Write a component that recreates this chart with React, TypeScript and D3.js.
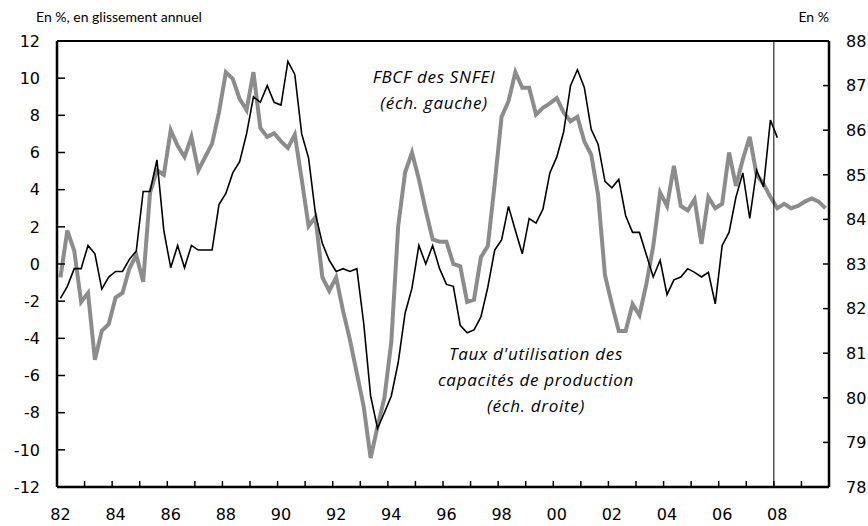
import React from "react";
import * as d3 from "d3";

const START_YEAR = 1982;
const END_YEAR = 2010;
const SPLIT_YEAR = 2008;

// FBCF des SNFEI, glissement annuel (%), trimestriel 1982T1 - 2008T1 (échelle gauche)
const fbcf: number[] = [
  -1.85, -1.2, -0.25, -0.25, 1.0, 0.55, -1.35, -0.7, -0.4, -0.4, 0.25, 0.7,
  3.9, 3.9, 5.6, 1.8, -0.2, 1.0, -0.2, 1.0, 0.75, 0.75, 0.75, 3.2,
  3.8, 4.9, 5.5, 7.0, 9.0, 8.7, 9.6, 8.7, 8.55, 10.9, 10.2, 7.0,
  5.7, 2.7, 1.1, 0.2, -0.4, -0.25, -0.4, -0.25, -3.2, -7.1, -8.85, -8.0,
  -7.1, -5.3, -2.65, -1.3, 1.0, 0.0, 1.0, -0.25, -1.1, -1.2, -3.3, -3.7,
  -3.55, -2.85, -1.25, 0.75, 1.3, 3.1, 1.8, 0.55, 2.45, 2.2, 2.95, 4.9,
  5.75, 7.1, 9.6, 10.45, 9.5, 7.25, 6.45, 4.45, 4.1, 4.55, 2.6, 1.7,
  1.7, 0.5, -0.7, 0.2, -1.65, -0.85, -0.7, -0.25, -0.45, -0.7, -0.45, -2.15,
  1.0, 1.7, 3.6, 4.9, 2.45, 5.05, 4.15, 7.75, 6.8,
];

// Taux d'utilisation des capacités de production (%), 1982T1 - 2009T4 (échelle droite)
const tuc: number[] = [
  82.7, 83.75, 83.3, 82.15, 82.35, 80.85, 81.5, 81.65, 82.25, 82.35, 82.9, 83.2,
  82.6, 84.6, 85.1, 85.0, 86.0, 85.65, 85.4, 85.85, 85.1, 85.4, 85.7, 86.4,
  87.3, 87.15, 86.7, 86.45, 87.3, 86.05, 85.85, 85.93, 85.75, 85.6, 85.9, 84.9,
  83.85, 84.05, 82.7, 82.4, 82.7, 81.95, 81.3, 80.55, 79.8, 78.65, 79.35, 80.0,
  81.25, 83.85, 85.05, 85.5, 84.9, 84.2, 83.55, 83.5, 83.5, 83.0, 82.95, 82.15,
  82.2, 83.15, 83.4, 84.8, 86.3, 86.65, 87.3, 86.95, 86.95, 86.35, 86.5, 86.6,
  86.72, 86.4, 86.2, 86.3, 85.75, 85.45, 84.55, 82.75, 82.1, 81.5, 81.5, 82.1,
  81.85, 82.55, 83.4, 84.6, 84.3, 85.2, 84.3, 84.2, 84.45, 83.45, 84.5, 84.25,
  84.35, 85.5, 84.75, 85.35, 85.85, 85.0, 84.8, 84.5, 84.25, 84.35, 84.25, 84.3,
  84.4, 84.47, 84.4, 84.25,
];

const leftTicks: number[] = [12, 10, 8, 6, 4, 2, 0, -2, -4, -6, -8, -10, -12];
const rightTicks: number[] = [88, 87, 86, 85, 84, 83, 82, 81, 80, 79, 78];
const yearLabels: string[] = ["82", "84", "86", "88", "90", "92", "94", "96", "98", "00", "02", "04", "06", "08"];

const titleLeft = "En %, en glissement annuel";
const titleRight = "En %";
const labelFbcf = ["FBCF des SNFEI", "(éch. gauche)"];
const labelTuc = ["Taux d'utilisation des", "capacités de production", "(éch. droite)"];

const W = 868;
const H = 526;
const L = 57;
const R = 829;
const T = 41;
const B = 487;

export default function App() {
  const x = d3.scaleLinear().domain([START_YEAR, END_YEAR]).range([L, R]);
  const yL = d3.scaleLinear().domain([-12, 12]).range([B, T]);
  const yR = d3.scaleLinear().domain([78, 88]).range([B, T]);
  const qx = (i: number) => x(START_YEAR + (i + 0.5) / 4);

  const lineL = d3
    .line<number>()
    .x((_, i) => qx(i))
    .y((d) => yL(d));
  const lineR = d3
    .line<number>()
    .x((_, i) => qx(i))
    .y((d) => yR(d));

  const yearTicks = d3.range(START_YEAR + 1, END_YEAR);
  const tickFont = { fontFamily: "DejaVu Sans, Verdana, sans-serif", fontSize: 16 };
  const annFont = {
    fontFamily: "Open Sans, sans-serif",
    fontSize: 17,
    fontStyle: "italic" as const,
    letterSpacing: 0.7,
  };

  return (
    <svg
      width={W}
      height={H}
      style={{ position: "absolute", left: 0, top: 0, background: "#fff" }}
    >
      <rect x={0} y={0} width={W} height={H} fill="#fff" />
      {/* titles */}
      <text x={36} y={22} fontFamily="Lato, sans-serif" fontSize={14} fill="#000">
        {titleLeft}
      </text>
      <text x={829} y={22} textAnchor="end" fontFamily="Lato, sans-serif" fontSize={14} fill="#000">
        {titleRight}
      </text>

      {/* series */}
      <path d={lineR(tuc) || ""} fill="none" stroke="#8c8c8c" strokeWidth={4} strokeLinejoin="miter" />
      <path d={lineL(fbcf) || ""} fill="none" stroke="#000" strokeWidth={1.6} strokeLinejoin="miter" />

      {/* 2008 separator */}
      <line x1={x(SPLIT_YEAR)} x2={x(SPLIT_YEAR)} y1={T} y2={B} stroke="#000" strokeWidth={1} />

      {/* frame */}
      <line x1={L} x2={R} y1={T} y2={T} stroke="#000" strokeWidth={2} />
      <line x1={L} x2={R} y1={B} y2={B} stroke="#000" strokeWidth={2.5} />
      <line x1={L} x2={L} y1={T} y2={B} stroke="#000" strokeWidth={2.5} />
      <line x1={R} x2={R} y1={T} y2={B} stroke="#000" strokeWidth={2.5} />

      {/* left axis */}
      {leftTicks.map((v) => (
        <g key={"l" + v}>
          <line x1={L} x2={L + 8} y1={yL(v)} y2={yL(v)} stroke="#000" strokeWidth={1.5} />
          <text x={40} y={yL(v)} dy="0.36em" textAnchor="end" {...tickFont} fill="#000">
            {v}
          </text>
        </g>
      ))}

      {/* right axis */}
      {rightTicks.map((v) => (
        <g key={"r" + v}>
          <line x1={R - 6} x2={R} y1={yR(v)} y2={yR(v)} stroke="#000" strokeWidth={1.5} />
          <text x={846} y={yR(v)} dy="0.36em" textAnchor="start" {...tickFont} fill="#000">
            {v}
          </text>
        </g>
      ))}

      {/* bottom axis */}
      {yearTicks.map((yr) => (
        <line key={"t" + yr} x1={x(yr)} x2={x(yr)} y1={B} y2={B - 6} stroke="#000" strokeWidth={1.5} />
      ))}
      {yearLabels.map((lab, k) => (
        <text
          key={"y" + lab}
          x={x(START_YEAR + 2 * k + 0.125)}
          y={520}
          textAnchor="middle"
          {...tickFont}
          fill="#000"
        >
          {lab}
        </text>
      ))}

      {/* annotations */}
      {labelFbcf.map((s, k) => (
        <text key={"a" + k} x={434} y={83 + k * 26} textAnchor="middle" {...annFont} fill="#000">
          {s}
        </text>
      ))}
      {labelTuc.map((s, k) => (
        <text key={"b" + k} x={536} y={360 + k * 26} textAnchor="middle" {...annFont} fill="#000">
          {s}
        </text>
      ))}
    </svg>
  );
}
